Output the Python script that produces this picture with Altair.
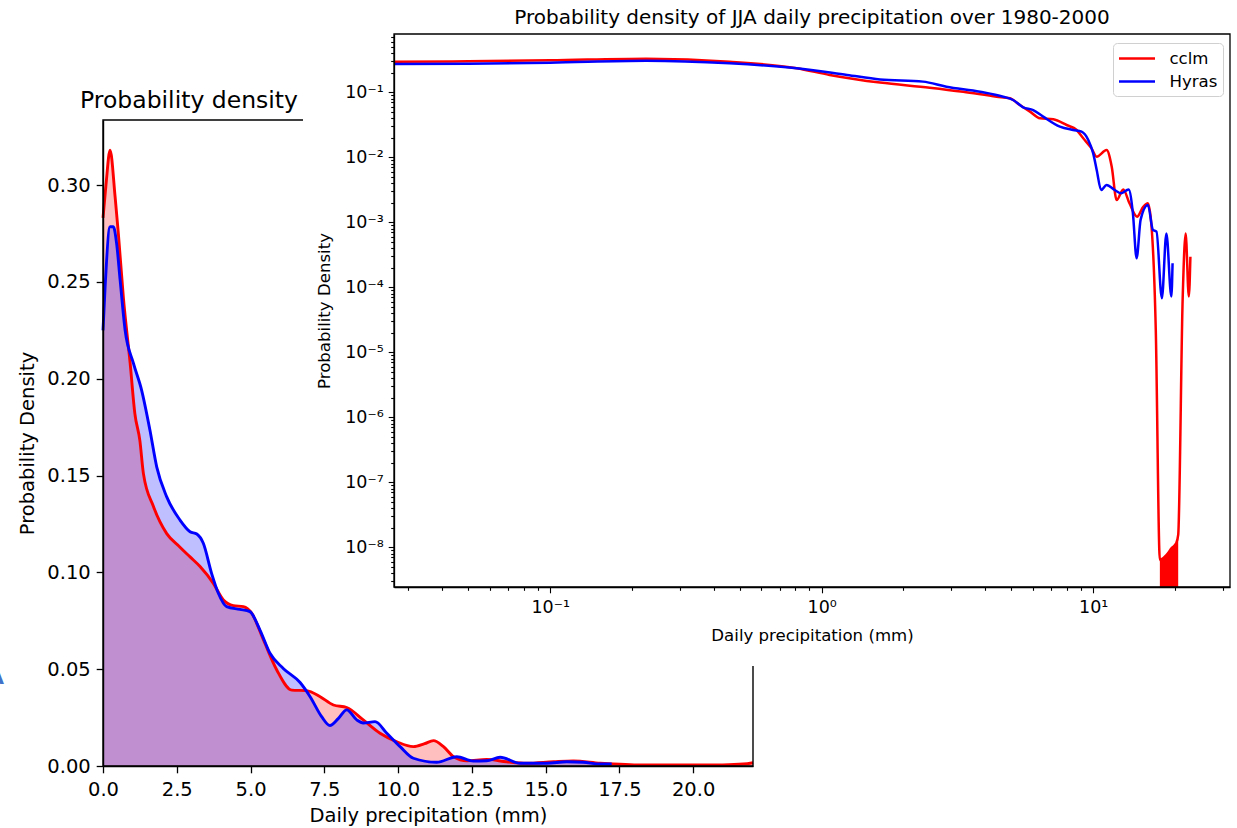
import altair as alt
import pandas as pd

# ---------------- data ----------------
# main panel (linear axes), KDE of daily precipitation
main_cclm_x = [0.0, 0.1, 0.24, 0.41, 0.52, 0.69, 0.92, 1.08, 1.25, 1.37,
               1.71, 2.16, 2.61, 2.95, 3.29, 3.74, 4.08, 4.42, 4.76, 5.04,
               5.44, 5.89, 6.40, 6.90, 7.36, 7.81, 8.26, 8.82, 9.39, 9.96,
               10.52, 10.9, 11.20, 11.54, 11.88, 12.33, 13.0, 13.68, 14.36, 15.27,
               15.94, 16.85, 17.3, 18.0, 19.0, 20.0, 21.0, 21.7, 22.03]
main_cclm_y = [0.283, 0.300, 0.318, 0.294, 0.275, 0.242, 0.208, 0.182, 0.168, 0.151,
               0.134, 0.120, 0.113, 0.108, 0.103, 0.0943, 0.0857, 0.0828, 0.0823, 0.0789,
               0.0651, 0.0496, 0.0392, 0.0389, 0.0358, 0.0315, 0.0302, 0.0238, 0.0169, 0.0125,
               0.0100, 0.0115, 0.0131, 0.0100, 0.0048, 0.0027, 0.0034, 0.0022, 0.0014, 0.0022,
               0.0026, 0.0014, 0.0010, 0.0006, 0.0005, 0.0005, 0.0006, 0.0010, 0.0017]
main_hyras_x = [0.0, 0.07, 0.24, 0.35, 0.46, 0.58, 0.75, 1.03, 1.31, 1.59,
                1.82, 2.16, 2.61, 2.95, 3.18, 3.40, 3.68, 3.91, 4.19, 4.64,
                4.98, 5.32, 5.66, 6.11, 6.68, 7.02, 7.41, 7.69, 7.98, 8.26,
                8.60, 8.82, 9.22, 9.62, 10.07, 10.52, 11.31, 11.99, 12.55, 13.0,
                13.46, 14.14, 15.04, 15.72, 16.28, 16.85, 17.24]
main_hyras_y = [0.225, 0.247, 0.2785, 0.2785, 0.270, 0.251, 0.225, 0.208, 0.194, 0.1735,
                0.1545, 0.139, 0.127, 0.121, 0.1198, 0.115, 0.0995, 0.0892, 0.0823, 0.0809,
                0.0797, 0.0702, 0.0582, 0.0504, 0.0431, 0.0358, 0.0255, 0.0209, 0.0246, 0.0290,
                0.0238, 0.0222, 0.0229, 0.0169, 0.0100, 0.0040, 0.0019, 0.0048, 0.0026, 0.0027,
                0.0045, 0.0014, 0.0014, 0.0022, 0.0019, 0.0010, 0.0010]

# inset panel (log-log axes)
inset_cclm_x = [0.0266, 0.05, 0.1, 0.226, 0.458, 0.809, 1.07, 1.64, 2.50, 3.32,
                4.41, 4.93, 5.37, 5.85, 6.37, 7.13, 7.98, 8.69, 9.19, 9.86,
                10.3, 11.2, 11.7, 12.2, 12.9, 13.6, 14.5, 15.3, 15.9, 16.4,
                17.0, 17.6, 18.1, 18.6, 19.45, 20.2, 20.56, 21.35, 21.9, 22.5,
                22.8]
inset_cclm_y = [0.296, 0.30, 0.31, 0.329, 0.296, 0.234, 0.185, 0.141, 0.118, 0.102,
                0.0856, 0.0809, 0.0638, 0.0504, 0.0398, 0.0384, 0.0314, 0.0263, 0.0196, 0.0137,
                0.0102, 0.0129, 0.00716, 0.0022, 0.0032, 0.00196, 0.00122, 0.00174, 0.00196, 0.000855,
                2.2e-5, 6.4e-9, 6.8e-9, 7.6e-9, 9.7e-9, 1.15e-8, 1.55e-8, 6.5e-5, 6.7e-4, 7.2e-5,
                2.95e-4]
inset_hyras_x = [0.0266, 0.05, 0.1, 0.226, 0.458, 0.809, 1.24, 1.64, 2.36, 2.88,
                 3.83, 4.66, 5.07, 5.52, 6.01, 6.54, 7.54, 8.44, 9.06, 9.59,
                 10.0, 10.3, 10.7, 11.2, 12.0, 12.7, 13.5, 14.0, 14.45, 14.95,
                 15.9, 16.6, 17.1, 17.9, 18.6, 19.4, 19.6]
inset_hyras_y = [0.272, 0.275, 0.285, 0.306, 0.279, 0.234, 0.185, 0.158, 0.146, 0.122,
                 0.102, 0.0856, 0.0762, 0.0588, 0.0534, 0.0422, 0.0296, 0.0263, 0.0248, 0.0185,
                 0.0115, 0.0064, 0.00314, 0.00375, 0.00314, 0.0028, 0.0032, 0.00138, 0.00028, 0.0011,
                 0.00185, 0.00076, 0.00072, 6.8e-5, 0.00067, 7.2e-5, 2.35e-4]
# dense sub-axis oscillation of cclm near 18-20 mm (drawn filled)
inset_fill_x = [17.6, 18.1, 18.6, 19.45, 20.2, 20.56]
inset_fill_y = [6.4e-9, 6.8e-9, 7.6e-9, 9.7e-9, 1.15e-8, 1.55e-8]

series_names = ["cclm", "Hyras"]
series_colors = ["red", "blue"]

main_xticks = [0, 2.5, 5, 7.5, 10, 12.5, 15, 17.5, 20]
main_yticks = [0, 0.05, 0.10, 0.15, 0.20, 0.25, 0.30]
inset_x_major = [0.1, 1, 10]
inset_y_major = [1e-8, 1e-7, 1e-6, 1e-5, 1e-4, 1e-3, 1e-2, 1e-1]
main_x_domain = [0, 22.03]
main_y_domain = [0, 0.3336]
inset_x_domain = [0.0266, 31.9]
inset_y_domain = [2.45e-9, 0.789]

# ---------------- layout ----------------
W, H = 1237, 828
FONT = "DejaVu Sans"
MX0, MX1, MY0, MY1 = 103, 753, 766, 120      # main axes box (px)
IX0, IX1, IY0, IY1 = 394, 1230, 587, 34      # inset axes box (px)

inset_x_ticks = [m * 10.0 ** e for e in (-2, -1, 0, 1) for m in range(1, 10)
                 if inset_x_domain[0] <= m * 10.0 ** e <= inset_x_domain[1]]
inset_y_ticks = [m * 10.0 ** e for e in range(-9, 0) for m in range(1, 10)
                 if inset_y_domain[0] <= m * 10.0 ** e <= inset_y_domain[1]]

IS_MAJOR = "abs(log(datum.value)/LN10 - round(log(datum.value)/LN10)) < 1e-6"
SUP = "['10⁻⁹','10⁻⁸','10⁻⁷','10⁻⁶','10⁻⁵','10⁻⁴','10⁻³','10⁻²','10⁻¹','10⁰','10¹','10²']"
LOG_LABEL = f"{IS_MAJOR} ? {SUP}[round(log(datum.value)/LN10) + 9] : ''"

common_axis = dict(labelFont=FONT, titleFont=FONT, labelColor="black", titleColor="black",
                   tickColor="black", domainColor="black", grid=False, labelFlush=False,
                   labelOverlap=False, titleFontWeight="normal", zindex=1)

ax_main_x = alt.Axis(orient="bottom", offset=MY0 - H, values=main_xticks, format=".1f",
                     title="Daily precipitation (mm)", labelFontSize=19.5, titleFontSize=19.5,
                     tickSize=6.8, tickWidth=1.3, domainWidth=1.4, labelPadding=8, titlePadding=7,
                     **common_axis)
ax_main_y = alt.Axis(orient="left", offset=-MX0, values=main_yticks, format=".2f",
                     title="Probability Density", labelFontSize=19.5, titleFontSize=19.5,
                     tickSize=6.8, tickWidth=1.3, domainWidth=1.4, labelPadding=6, titlePadding=9,
                     **common_axis)
ax_in_x = alt.Axis(orient="bottom", offset=IY0 - H, values=inset_x_ticks, labelExpr=LOG_LABEL,
                   title="Daily precipitation (mm)", labelFontSize=17.5, titleFontSize=16.6,
                   tickSize={"condition": {"test": IS_MAJOR, "value": 5.8}, "value": 3.3},
                   tickWidth=1.1, domainWidth=1.3, labelPadding=6, titlePadding=11,
                   **common_axis)
ax_in_y = alt.Axis(orient="left", offset=-IX0, values=inset_y_ticks, labelExpr=LOG_LABEL,
                   title="Probability Density", labelFontSize=17.5, titleFontSize=16.6,
                   tickSize={"condition": {"test": IS_MAJOR, "value": 5.8}, "value": 3.3},
                   tickWidth=1.1, domainWidth=1.3, labelPadding=5, titlePadding=12,
                   **common_axis)

sx_main = alt.Scale(domain=main_x_domain, range=[MX0, MX1], nice=False, zero=False)
sy_main = alt.Scale(domain=main_y_domain, range=[MY0, MY1], nice=False, zero=False)
sx_in = alt.Scale(type="log", domain=inset_x_domain, range=[IX0, IX1], nice=False)
sy_in = alt.Scale(type="log", domain=inset_y_domain, range=[IY0, IY1], nice=False)

df_mc = pd.DataFrame({"x": main_cclm_x, "y": main_cclm_y})
df_mh = pd.DataFrame({"x": main_hyras_x, "y": main_hyras_y})


def main_enc(ch):
    return ch.encode(x=alt.X("x:Q", scale=sx_main, axis=ax_main_x),
                     y=alt.Y("y:Q", scale=sy_main, axis=ax_main_y, stack=None))


area_c = main_enc(alt.Chart(df_mc).mark_area(color="red", fillOpacity=0.25, interpolate="monotone"))
line_c = main_enc(alt.Chart(df_mc).mark_line(color="red", strokeWidth=2.9, interpolate="monotone"))
area_h = main_enc(alt.Chart(df_mh).mark_area(color="blue", fillOpacity=0.25, interpolate="monotone"))
line_h = main_enc(alt.Chart(df_mh).mark_line(color="blue", strokeWidth=2.9, interpolate="monotone"))
main_panel = alt.layer(area_c, area_h, line_c, line_h)

one = pd.DataFrame({"a": [0]})
main_frame = alt.Chart(one).mark_rect(fill=None, stroke="black", strokeWidth=1.4).encode(
    x=alt.value(MX0), x2=alt.value(MX1), y=alt.value(MY1), y2=alt.value(MY0))
cover = alt.Chart(one).mark_rect(color="white").encode(
    x=alt.value(303), x2=alt.value(W), y=alt.value(0), y2=alt.value(666))

df_in = pd.concat([
    pd.DataFrame({"series": series_names[0], "x": inset_cclm_x, "y": inset_cclm_y}),
    pd.DataFrame({"series": series_names[1], "x": inset_hyras_x, "y": inset_hyras_y}),
], ignore_index=True)
df_fill = pd.DataFrame({"x": inset_fill_x, "y": inset_fill_y,
                        "y0": [inset_y_domain[0]] * len(inset_fill_x)})

inset_fill = alt.Chart(df_fill).mark_area(color="red", interpolate="linear").encode(
    x=alt.X("x:Q", scale=sx_in, axis=ax_in_x),
    y=alt.Y("y:Q", scale=sy_in, axis=ax_in_y),
    y2="y0:Q")
inset_lines = alt.Chart(df_in).mark_line(strokeWidth=2.5, interpolate="monotone").encode(
    x=alt.X("x:Q", scale=sx_in, axis=ax_in_x),
    y=alt.Y("y:Q", scale=sy_in, axis=ax_in_y),
    color=alt.Color("series:N", sort=series_names,
                    scale=alt.Scale(domain=series_names, range=series_colors),
                    legend=alt.Legend(orient="none", legendX=1113, legendY=43, title=None,
                                      symbolType="M-2,0H2", symbolSize=324, symbolStrokeWidth=2.5,
                                      symbolOffset=8.5,
                                      labelFont=FONT, labelFontSize=16.6, labelColor="black",
                                      labelOffset=22, padding=5, rowPadding=3,
                                      strokeColor="#d0d0d0", fillColor="white", cornerRadius=4)))
inset_panel = alt.layer(inset_fill, inset_lines)

inset_frame = alt.Chart(one).mark_rect(fill=None, stroke="black", strokeWidth=1.3).encode(
    x=alt.value(IX0), x2=alt.value(IX1), y=alt.value(IY1), y2=alt.value(IY0))

main_title = alt.Chart(one).mark_text(text="Probability density", font=FONT, fontSize=23.5,
                                      align="center", baseline="alphabetic", color="black").encode(
    x=alt.value(189), y=alt.value(108))
inset_title = alt.Chart(one).mark_text(
    text="Probability density of JJA daily precipitation over 1980-2000", font=FONT, fontSize=20,
    align="center", baseline="alphabetic", color="black").encode(
    x=alt.value((IX0 + IX1) / 2), y=alt.value(24))
# clipped glyph of a neighbouring panel visible at the left edge
edge_glyph = alt.Chart(one).mark_text(text="A", font=FONT, fontSize=20, fontWeight="bold",
                                      align="right", baseline="alphabetic", color="#3f72c8").encode(
    x=alt.value(4), y=alt.value(684))

chart = alt.layer(
    main_panel, main_frame, cover, inset_panel, inset_frame, main_title, inset_title, edge_glyph
).resolve_scale(
    x="independent", y="independent", color="independent"
).properties(
    width=W, height=H, padding=0, autosize=alt.AutoSizeParams(type="none"),
    background="white"
).configure_view(stroke=None)

chart.save("out.html", embed_options={"renderer": "svg", "actions": False})
